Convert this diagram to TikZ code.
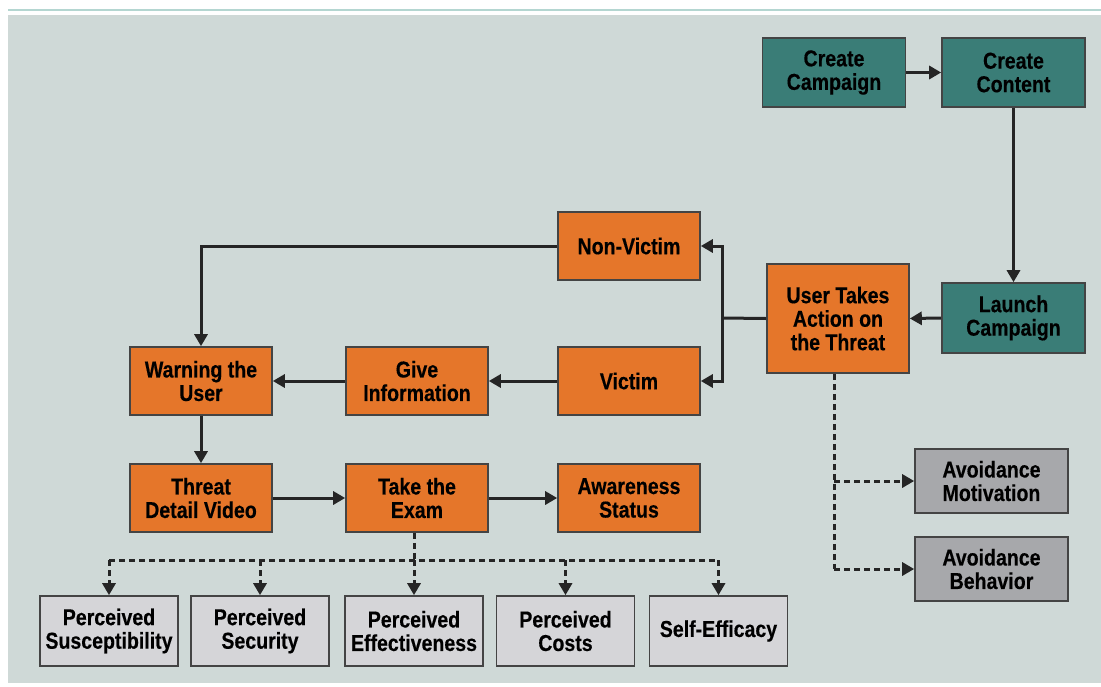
\documentclass[tikz,border=0pt]{standalone}
\usepackage{fontspec}
\setmainfont{Liberation Sans}[FakeStretch=0.85, BoldFeatures={FakeBold=0.35}]
\usetikzlibrary{arrows.meta}

\definecolor{bgpanel}{HTML}{CFD9D7}
\definecolor{topline}{HTML}{B4D6D1}
\definecolor{tealbox}{HTML}{3A7D77}
\definecolor{orangebox}{HTML}{E5762A}
\definecolor{darkgray}{HTML}{A7A8AB}
\definecolor{lightgray}{HTML}{D5D5D8}
\definecolor{edge}{HTML}{444444}
\definecolor{ink}{HTML}{252525}

\tikzset{
  box/.style={draw=edge, line width=1.6pt, align=center, text=black,
    font=\fontsize{23}{23.5}\selectfont\bfseries, inner sep=0pt},
  teal/.style={box, fill=tealbox, minimum width=143pt, minimum height=69pt},
  orange/.style={box, fill=orangebox, minimum width=142pt, minimum height=68pt},
  avoid/.style={box, fill=darkgray, minimum width=153pt, minimum height=64pt},
  factor/.style={box, fill=lightgray, minimum width=138pt, minimum height=70pt},
  arr/.style={draw=ink, line width=3pt, -{Triangle[length=12pt,width=13pt]}},
  link/.style={draw=ink, line width=3pt},
  dasharr/.style={draw=ink, line width=3pt, dash pattern=on 6pt off 4pt,
    -{Triangle[length=12pt,width=13pt]}},
  dashlink/.style={draw=ink, line width=3pt, dash pattern=on 6pt off 4pt},
}

\begin{document}
\begin{tikzpicture}[x=1pt,y=-1pt]
  \useasboundingbox (0,0) rectangle (1101,686);
  % page furniture
  \fill[white] (0,0) rectangle (1101,686);
  \draw[topline, line width=1.5pt] (8,10) -- (1101,10);
  \fill[bgpanel] (8,15) rectangle (1101,683);

  % campaign setup
  \node[teal] (cc) at (834,72.5) {Create\\Campaign};
  \node[teal] (ct) at (1013.5,72.5) {Create\\Content};
  \node[teal, minimum height=70pt] (lc) at (1013.5,318) {Launch\\Campaign};

  % user flow
  \node[orange, minimum height=109pt] (uta) at (838,318.5) {User Takes\\Action on\\the Threat};
  \node[orange] (nv) at (629,246) {Non-Victim};
  \node[orange] (vi) at (629,381) {Victim};
  \node[orange] (gi) at (417,381) {Give\\Information};
  \node[orange] (wu) at (201,381) {Warning the\\User};
  \node[orange] (td) at (201,498) {Threat\\Detail Video};
  \node[orange] (te) at (417,498) {Take the\\Exam};
  \node[orange] (as) at (629,498) {Awareness\\Status};

  % avoidance outcomes
  \node[avoid] (am) at (991.5,481) {Avoidance\\Motivation};
  \node[avoid] (ab) at (991.5,569) {Avoidance\\Behavior};

  % perceived factors
  \node[factor] (p1) at (109,631) {Perceived\\Susceptibility};
  \node[factor] (p2) at (260,631) {Perceived\\Security};
  \node[factor] (p3) at (414,631) {Perceived\\Effectiveness};
  \node[factor] (p4) at (565.5,631) {Perceived\\Costs};
  \node[factor] (p5) at (718.5,631) {Self-Efficacy};

  % solid connectors
  \draw[arr] (cc.east) -- (ct.west);
  \draw[arr] (ct.south) -- (lc.north);
  \draw[arr] (lc.west) -- (uta.east);
  \coordinate (split) at (722,318);
  \draw[link] (uta.west) -- (split);
  \draw[arr] (split) |- (nv.east);
  \draw[arr] (split) |- (vi.east);
  \draw[arr] (nv.west) -| (wu.north);
  \draw[arr] (vi.west) -- (gi.east);
  \draw[arr] (gi.west) -- (wu.east);
  \draw[arr] (wu.south) -- (td.north);
  \draw[arr] (td.east) -- (te.west);
  \draw[arr] (te.east) -- (as.west);

  % dashed connectors to the perceived factors
  \coordinate (bus) at (414,560);
  \draw[dashlink] (te.south -| bus) -- (bus);
  \draw[dashlink] (p1.north |- bus) -- (p5.north |- bus);
  \foreach \p in {p1,p2,p3,p4,p5}
    \draw[dasharr] (\p.north |- bus) -- (\p.north);

  % dashed connectors to the avoidance outcomes
  \coordinate (drop) at (834,569);
  \draw[dashlink] (uta.south -| drop) -- (drop);
  \draw[dasharr] (drop |- am.west) -- (am.west);
  \draw[dasharr] (drop) -- (ab.west);
\end{tikzpicture}
\end{document}
